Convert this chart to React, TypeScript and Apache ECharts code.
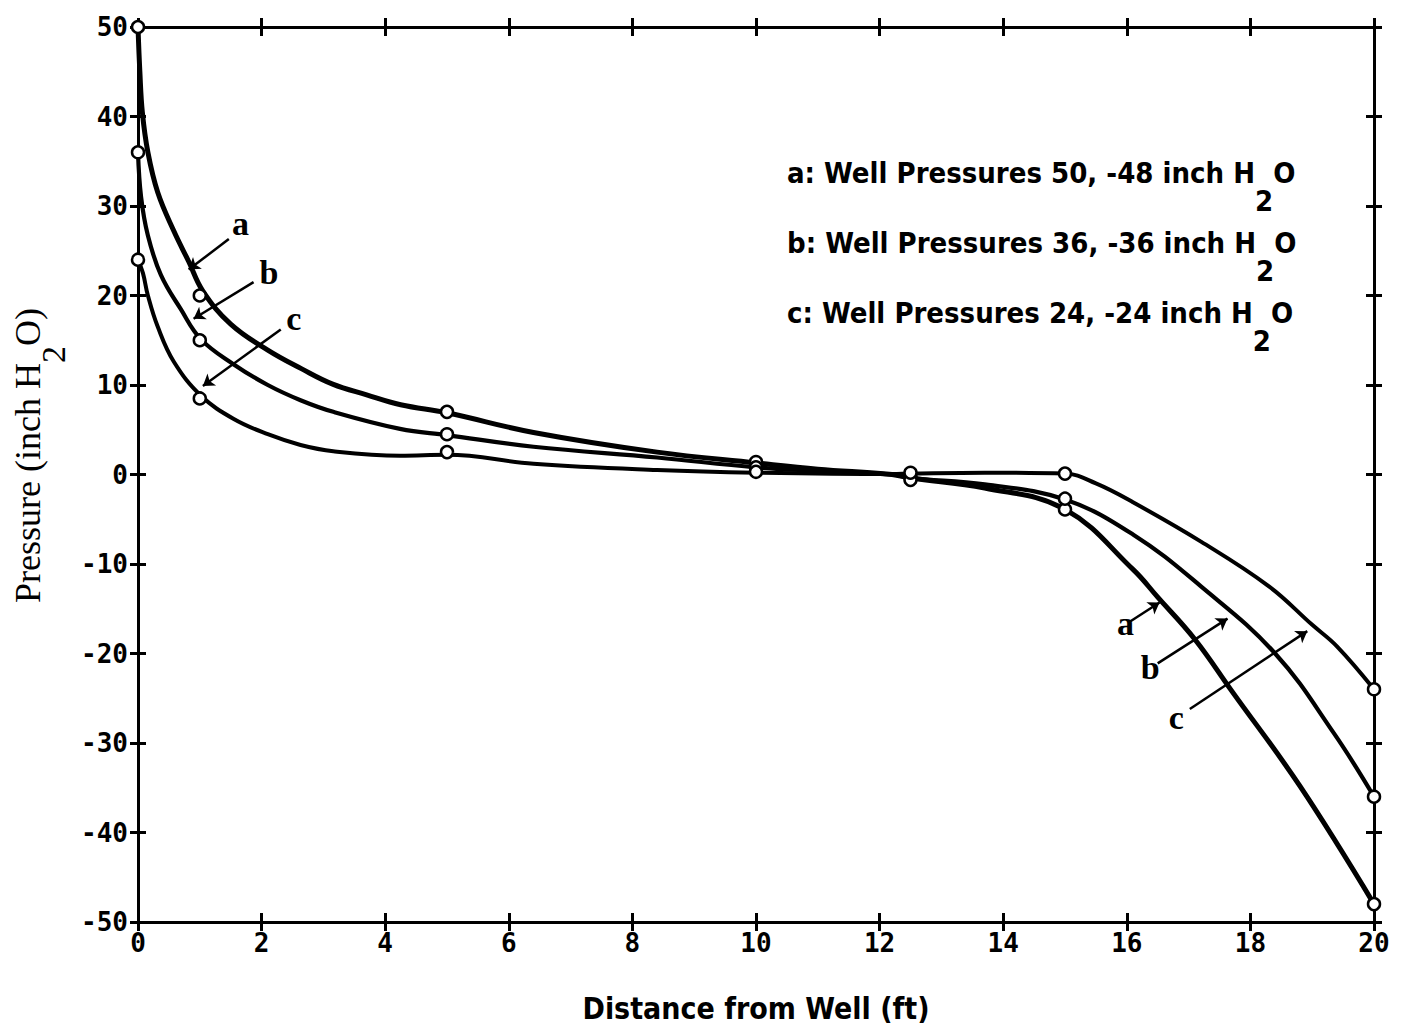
import React, { useEffect, useRef } from "react";
import * as echarts from "echarts";

// ---- Data ----
const X_MIN = 0;
const X_MAX = 20;
const X_STEP = 2;
const Y_MIN = -50;
const Y_MAX = 50;
const Y_STEP = 10;

// curve traces (distance ft, pressure inch H2O)
const curveA: [number, number][] = [
  [0, 50], [0.03, 45], [0.07, 40.5], [0.16, 36], [0.32, 31.5], [0.58, 27.2], [0.82, 23.8],
  [1.05, 20.5], [1.5, 16.8], [2.1, 13.9], [2.65, 11.8], [3.15, 10.1], [3.7, 8.9], [4.25, 7.8],
  [5, 6.9], [6.4, 4.7], [8.4, 2.5], [10, 1.3], [11, 0.6], [12.2, 0], [12.5, -0.4], [13.7, -1.5],
  [15, -3.9], [16.1, -10.6], [16.5, -13.7], [17.1, -18.4], [17.7, -24.2], [18.8, -34.8], [20, -48],
];
const curveB: [number, number][] = [
  [0, 36], [0.05, 31], [0.16, 26.7], [0.37, 22.3], [0.69, 18.5], [1.02, 15.1], [1.55, 12.3],
  [2.1, 10], [2.63, 8.3], [3.16, 7], [4.24, 5.1], [5, 4.4], [6.4, 3.1], [8.4, 1.9], [10, 0.8],
  [11, 0.4], [12.2, 0], [12.5, -0.4], [13.7, -1.1], [15, -2.8], [16.1, -6.7], [17.2, -12.5],
  [18.4, -20], [19.35, -28.9], [20, -36],
];
const curveC: [number, number][] = [
  [0, 24], [0.08, 22.5], [0.16, 20], [0.32, 16.5], [0.58, 12.6], [1.02, 8.8], [1.55, 6.2],
  [2.1, 4.5], [2.63, 3.3], [3.16, 2.6], [4.24, 2.1], [5, 2.2], [6.4, 1.2], [8.4, 0.5], [10, 0.2],
  [12.2, 0.05], [12.5, 0.1], [13.7, 0.2], [15, 0.1], [15.5, -1], [16.1, -3.1], [17.2, -7.5], [18.3, -12.5],
  [19, -16.8], [19.4, -19.2], [20, -24],
];

// measured points (open circles)
const pointsA: [number, number][] = [[0, 50], [1, 20], [5, 7], [10, 1.4], [12.5, -0.3], [15, -3.9], [20, -48]];
const pointsB: [number, number][] = [[0, 36], [1, 15], [5, 4.5], [10, 0.8], [12.5, -0.6], [15, -2.7], [20, -36]];
const pointsC: [number, number][] = [[0, 24], [1, 8.5], [5, 2.5], [10, 0.3], [12.5, 0.2], [15, 0.1], [20, -24]];

// curve annotations: label positions and arrows (data coordinates)
const annotationNames = ["a", "b", "c", "a", "b", "c"];
const annotationLabelAt: [number, number][] = [
  [1.66, 28.1], [2.12, 22.6], [2.52, 17.4],
  [15.98, -16.7], [16.38, -21.6], [16.8, -27.1],
];
const annotationArrowFrom: [number, number][] = [
  [1.47, 26.3], [1.87, 21.5], [2.31, 16.2],
  [16.06, -16.4], [16.5, -21.1], [17.02, -26.2],
];
const annotationArrowTo: [number, number][] = [
  [0.82, 22.9], [0.9, 17.4], [1.05, 9.9],
  [16.53, -14.3], [17.63, -16.1], [18.92, -17.5],
];

const legendTexts = [
  "a: Well Pressures 50, -48 inch H",
  "b: Well Pressures 36, -36 inch H",
  "c: Well Pressures 24, -24 inch H",
];

const BLACK = "#000";
const TICK_FONT = "DejaVu Sans Mono";
const COND = "'DejaVu Sans Condensed', 'Liberation Sans', sans-serif";

export default function App() {
  const ref = useRef<HTMLDivElement>(null);

  useEffect(() => {
    document.body.style.margin = "0";
    document.body.style.overflow = "hidden";
    if (!ref.current) return;
    const chart = echarts.init(ref.current, undefined, { renderer: "svg" });

    const grid = { left: 138, right: 34, top: 27, bottom: 109 };

    const makeX = (position: "bottom" | "top", inside: boolean, labels: boolean, extra: any = {}) => ({
      type: "value",
      position,
      min: X_MIN,
      max: X_MAX,
      interval: X_STEP,
      axisLine: { show: true, onZero: false, lineStyle: { color: BLACK, width: 3 } },
      axisTick: { show: true, inside, length: 9, lineStyle: { color: BLACK, width: 3 } },
      axisLabel: {
        show: labels,
        color: BLACK,
        fontFamily: TICK_FONT,
        fontWeight: "bold",
        fontSize: 26,
        margin: 8,
      },
      splitLine: { show: false },
      ...extra,
    });
    const makeY = (position: "left" | "right", inside: boolean, labels: boolean, extra: any = {}) => ({
      type: "value",
      position,
      min: Y_MIN,
      max: Y_MAX,
      interval: Y_STEP,
      axisLine: { show: true, onZero: false, lineStyle: { color: BLACK, width: 3 } },
      axisTick: { show: true, inside, length: 8, lineStyle: { color: BLACK, width: 3 } },
      axisLabel: {
        show: labels,
        color: BLACK,
        fontFamily: TICK_FONT,
        fontWeight: "bold",
        fontSize: 26,
        margin: 10,
      },
      splitLine: { show: false },
      ...extra,
    });

    const lineSeries = (name: string, data: [number, number][], width: number) => ({
      name,
      type: "line",
      data,
      showSymbol: false,
      smooth: 0.4,
      lineStyle: { color: BLACK, width },
      itemStyle: { color: BLACK },
      z: 2,
      silent: true,
    });
    const pointSeries = (name: string, data: [number, number][]) => ({
      name,
      type: "scatter",
      data,
      symbol: "circle",
      symbolSize: 12,
      itemStyle: { color: "#fff", borderColor: BLACK, borderWidth: 2.5, opacity: 1 },
      z: 3,
      silent: true,
    });

    const legendRich = {
      n: {
        fontFamily: COND,
        fontWeight: "bold",
        fontSize: 29,
        lineHeight: 40,
        verticalAlign: "top",
        fill: BLACK,
      },
      s: {
        fontFamily: COND,
        fontWeight: "bold",
        fontSize: 29,
        lineHeight: 32,
        padding: [28, 0, 0, 0],
        verticalAlign: "top",
        fill: BLACK,
      },
    };

    chart.setOption({
      animation: false,
      backgroundColor: "#fff",
      grid,
      xAxis: [
        makeX("bottom", false, true, {
          name: "Distance from Well (ft)",
          nameLocation: "middle",
          nameGap: 71,
          nameTextStyle: {
            fontFamily: COND,
            fontWeight: "bold",
            fontSize: 30,
            color: BLACK,
          },
        }),
        makeX("bottom", true, false),
        makeX("top", false, false),
        makeX("top", true, false),
      ],
      yAxis: [
        makeY("left", false, true, {
          name: "{n|Pressure (inch H}{s|2}{n|O)}",
          nameLocation: "middle",
          nameGap: 70,
          nameTextStyle: {
            color: BLACK,
            padding: [0, 0, 0, 38],
            rich: {
              n: {
                fontFamily: "Liberation Serif",
                fontSize: 36,
                lineHeight: 40,
                verticalAlign: "top",
                color: BLACK,
              },
              s: {
                fontFamily: "Liberation Serif",
                fontSize: 34,
                lineHeight: 36,
                padding: [26, 0, 0, 0],
                verticalAlign: "top",
                color: BLACK,
              },
            },
          },
        }),
        makeY("left", true, false),
        makeY("right", false, false),
        makeY("right", true, false),
      ],
      series: [
        lineSeries("a", curveA, 5),
        lineSeries("b", curveB, 4.2),
        lineSeries("c", curveC, 4),
        pointSeries("a points", pointsA),
        pointSeries("b points", pointsB),
        pointSeries("c points", pointsC),
        {
          name: "arrows",
          type: "lines",
          coordinateSystem: "cartesian2d",
          xAxisIndex: 0,
          yAxisIndex: 0,
          polyline: false,
          silent: true,
          symbol: ["none", "arrow"],
          symbolSize: 11,
          lineStyle: { color: BLACK, width: 2.5, opacity: 1 },
          data: annotationArrowFrom.map((f, i) => ({ coords: [f, annotationArrowTo[i]] })),
          z: 4,
        },
        {
          name: "curve labels",
          type: "scatter",
          silent: true,
          symbolSize: 1,
          itemStyle: { color: "rgba(0,0,0,0)", opacity: 1 },
          data: annotationLabelAt.map((p, i) => ({ name: annotationNames[i], value: p })),
          label: {
            show: true,
            position: "inside",
            formatter: "{b}",
            fontFamily: "Liberation Serif",
            fontWeight: "bold",
            fontSize: 34,
            color: BLACK,
          },
          z: 5,
        },
      ],
      graphic: legendTexts.map((t, i) => ({
        type: "text",
        left: 787,
        top: 158 + i * 70,
        silent: true,
        style: {
          text: `{n|${t}}{s|2}{n|O}`,
          rich: legendRich,
          fill: BLACK,
        },
      })),
    });

    return () => {
      chart.dispose();
    };
  }, []);

  return <div ref={ref} style={{ width: 1408, height: 1031 }} />;
}
